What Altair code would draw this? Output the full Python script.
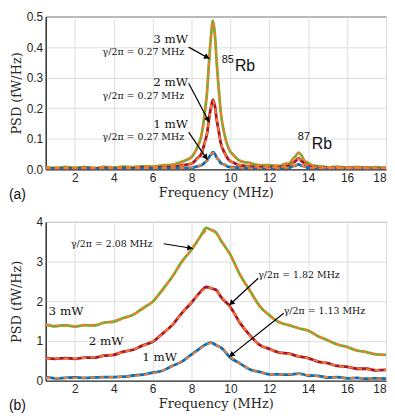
import math
import altair as alt
import pandas as pd

# ---------------- panel (a) data ----------------
freq_a = [0.5, 1, 1.5, 2, 2.5, 3, 3.5, 4, 4.5, 5, 5.5, 6, 6.5, 7, 7.5, 8, 8.3, 8.5, 8.7, 8.8,
          8.9, 9.0, 9.1, 9.2, 9.3, 9.4, 9.5, 9.7, 9.9, 10.2, 10.5, 11, 11.5, 12, 12.5, 12.8,
          13.0, 13.2, 13.35, 13.5, 13.65, 13.8, 14.0, 14.3, 14.7, 15, 15.5, 16, 16.5, 17, 17.5, 18]

data_a_3 = [0.007, 0.004, 0.008, 0.005, 0.007, 0.004, 0.008, 0.006, 0.009, 0.007,
            0.010, 0.009, 0.013, 0.015, 0.025, 0.040, 0.073, 0.108, 0.195, 0.255,
            0.352, 0.436, 0.487, 0.442, 0.343, 0.262, 0.188, 0.113, 0.069, 0.044,
            0.027, 0.021, 0.013, 0.014, 0.011, 0.018, 0.019, 0.033, 0.043, 0.055,
            0.046, 0.028, 0.021, 0.011, 0.010, 0.006, 0.009, 0.005, 0.008, 0.005, 0.007, 0.005]
fit_a_3 = [0.006, 0.006, 0.006, 0.006, 0.006, 0.006, 0.007, 0.007, 0.007, 0.008,
           0.009, 0.010, 0.012, 0.016, 0.023, 0.042, 0.071, 0.110, 0.191, 0.258,
           0.347, 0.439, 0.481, 0.439, 0.347, 0.258, 0.191, 0.110, 0.071, 0.042,
           0.029, 0.019, 0.015, 0.012, 0.013, 0.016, 0.020, 0.031, 0.044, 0.053,
           0.044, 0.030, 0.019, 0.013, 0.009, 0.008, 0.008, 0.007, 0.007, 0.006, 0.006, 0.006]
data_a_2 = [0.002, 0.004, 0.003, 0.002, 0.005, 0.003, 0.004, 0.002, 0.005, 0.003,
            0.006, 0.004, 0.007, 0.007, 0.013, 0.019, 0.036, 0.050, 0.093, 0.118,
            0.166, 0.203, 0.228, 0.207, 0.160, 0.124, 0.087, 0.054, 0.032, 0.021,
            0.013, 0.010, 0.007, 0.008, 0.007, 0.010, 0.011, 0.020, 0.027, 0.036,
            0.027, 0.020, 0.011, 0.009, 0.005, 0.006, 0.003, 0.005, 0.003, 0.005, 0.002, 0.004]
fit_a_2 = [0.003, 0.003, 0.003, 0.004, 0.004, 0.004, 0.004, 0.004, 0.004, 0.004,
           0.005, 0.005, 0.006, 0.008, 0.012, 0.020, 0.034, 0.052, 0.090, 0.121,
           0.163, 0.205, 0.225, 0.205, 0.163, 0.121, 0.090, 0.052, 0.034, 0.020,
           0.014, 0.009, 0.008, 0.007, 0.008, 0.009, 0.012, 0.019, 0.028, 0.034,
           0.028, 0.019, 0.012, 0.008, 0.006, 0.005, 0.004, 0.004, 0.004, 0.004, 0.003, 0.003]
data_a_1 = [0.001, 0.003, 0.002, 0.001, 0.003, 0.002, 0.001, 0.003, 0.002, 0.001,
            0.003, 0.002, 0.004, 0.003, 0.005, 0.005, 0.010, 0.013, 0.023, 0.029,
            0.040, 0.048, 0.056, 0.050, 0.038, 0.031, 0.021, 0.015, 0.008, 0.007,
            0.004, 0.004, 0.002, 0.004, 0.003, 0.006, 0.005, 0.010, 0.012, 0.016,
            0.012, 0.010, 0.005, 0.005, 0.002, 0.003, 0.001, 0.003, 0.001, 0.002, 0.003, 0.001]
fit_a_1 = [0.002, 0.002, 0.002, 0.002, 0.002, 0.002, 0.002, 0.002, 0.002, 0.002,
           0.002, 0.003, 0.003, 0.003, 0.004, 0.006, 0.009, 0.014, 0.022, 0.030,
           0.039, 0.049, 0.054, 0.049, 0.039, 0.030, 0.022, 0.014, 0.009, 0.006,
           0.005, 0.003, 0.003, 0.003, 0.004, 0.005, 0.006, 0.009, 0.013, 0.015,
           0.013, 0.009, 0.006, 0.004, 0.003, 0.003, 0.002, 0.002, 0.002, 0.002, 0.002, 0.002]

# ---------------- panel (b) data ----------------
freq_b = [0.5, 1, 1.5, 2, 2.5, 3, 3.5, 4, 4.5, 5, 5.5, 6, 6.5, 7, 7.5, 8, 8.5, 8.75, 9, 9.25,
          9.5, 10, 10.5, 11, 11.5, 12, 12.5, 13, 13.5, 14, 14.5, 15, 15.5, 16, 16.5, 17, 17.5, 18]

data_b_3 = [1.42, 1.37, 1.40, 1.36, 1.40, 1.39, 1.46, 1.49, 1.58, 1.66,
            1.83, 1.99, 2.29, 2.61, 3.00, 3.30, 3.67, 3.85, 3.80, 3.74,
            3.54, 3.17, 2.66, 2.27, 1.88, 1.65, 1.47, 1.40, 1.32, 1.26,
            1.12, 1.02, 0.91, 0.85, 0.76, 0.72, 0.66, 0.65]
fit_b_3 = [1.40, 1.39, 1.38, 1.38, 1.39, 1.41, 1.45, 1.50, 1.57, 1.67,
           1.81, 2.00, 2.27, 2.62, 2.98, 3.31, 3.65, 3.78, 3.80, 3.72,
           3.56, 3.15, 2.68, 2.25, 1.90, 1.64, 1.48, 1.39, 1.33, 1.25,
           1.13, 1.01, 0.92, 0.84, 0.77, 0.71, 0.67, 0.64]
data_b_2 = [0.57, 0.55, 0.57, 0.55, 0.58, 0.58, 0.63, 0.65, 0.73, 0.78,
            0.89, 0.98, 1.18, 1.40, 1.70, 1.97, 2.26, 2.36, 2.33, 2.29,
            2.12, 1.85, 1.45, 1.14, 0.90, 0.80, 0.71, 0.68, 0.61, 0.57,
            0.48, 0.44, 0.37, 0.35, 0.30, 0.30, 0.26, 0.27]
fit_b_2 = [0.56, 0.56, 0.56, 0.56, 0.57, 0.59, 0.62, 0.66, 0.72, 0.79,
           0.88, 0.99, 1.17, 1.41, 1.69, 1.98, 2.24, 2.33, 2.34, 2.27,
           2.14, 1.83, 1.47, 1.13, 0.91, 0.79, 0.72, 0.67, 0.62, 0.56,
           0.49, 0.43, 0.38, 0.34, 0.31, 0.29, 0.27, 0.26]
data_b_1 = [0.08, 0.06, 0.07, 0.08, 0.07, 0.08, 0.09, 0.09, 0.10, 0.13,
            0.15, 0.20, 0.25, 0.37, 0.48, 0.66, 0.84, 0.92, 0.96, 0.90,
            0.84, 0.58, 0.43, 0.28, 0.22, 0.16, 0.16, 0.15, 0.18, 0.13,
            0.12, 0.08, 0.09, 0.06, 0.07, 0.05, 0.06, 0.05]
fit_b_1 = [0.07, 0.07, 0.07, 0.07, 0.075, 0.08, 0.085, 0.09, 0.10, 0.12,
           0.15, 0.19, 0.26, 0.36, 0.49, 0.65, 0.83, 0.91, 0.94, 0.91,
           0.83, 0.60, 0.42, 0.29, 0.21, 0.17, 0.155, 0.16, 0.17, 0.14,
           0.11, 0.09, 0.08, 0.07, 0.065, 0.06, 0.055, 0.05]

powers = ["3 mW", "2 mW", "1 mW"]
power_colors = ["#77AC30", "#A2142F", "#0072BD"]
fit_color = "#FA7A28"

# ---------------- ticks & annotations ----------------
x_ticks = [2, 4, 6, 8, 10, 12, 14, 16, 18]
y_ticks_a = [0, 0.1, 0.2, 0.3, 0.4, 0.5]
y_ticks_b = [0, 1, 2, 3, 4]

mw_a_text = ["3 mW", "2 mW", "1 mW"]
mw_a_f = [7.82, 7.82, 7.82]
mw_a_v = [0.426, 0.285, 0.147]
gam_a_text = ["γ/2π = 0.27 MHz", "γ/2π = 0.27 MHz", "γ/2π = 0.27 MHz"]
gam_a_f = [7.62, 7.62, 7.62]
gam_a_v = [0.385, 0.240, 0.106]
arr_a_f1 = [7.85, 7.85, 7.85]
arr_a_v1 = [0.400, 0.282, 0.122]
arr_a_f2 = [8.93, 8.91, 8.82]
arr_a_v2 = [0.362, 0.154, 0.031]
iso_text = ["Rb", "Rb"]
iso_f = [10.23, 14.18]
iso_v = [0.338, 0.083]
iso_sup = ["85", "87"]
iso_sup_f = [10.18, 14.09]
iso_sup_v = [0.359, 0.106]

mw_b_text = ["3 mW", "2 mW", "1 mW"]
mw_b_f = [0.65, 2.71, 5.46]
mw_b_v = [1.75, 1.0, 0.6]
gam_b_text = ["γ/2π = 2.08 MHz", "γ/2π = 1.82 MHz", "γ/2π = 1.13 MHz"]
gam_b_f = [1.80, 11.43, 12.74]
gam_b_v = [3.45, 2.66, 1.76]
arr_b_f1 = [6.57, 11.43, 12.74]
arr_b_v1 = [3.45, 2.58, 1.70]
arr_b_f2 = [8.07, 9.93, 9.93]
arr_b_v2 = [3.33, 1.90, 0.60]

W = 343
HA = 154
HB = 160
X_DOM = [0.5, 18]

SERIF = "DejaVu Serif"
SANS = "Liberation Sans"


def long_df(freq, vals):
    rows = []
    for p, d in zip(powers, vals):
        for i, f in enumerate(freq):
            rows.append({"f": f, "v": d[i], "power": p, "order": i})
    return pd.DataFrame(rows)


def arrow_heads(f1, v1, f2, v2, sx, sy):
    rows = []
    for a, b, c, d in zip(f1, v1, f2, v2):
        dx = (c - a) * sx
        dys = -(d - b) * sy
        L = math.hypot(dx, dys)
        ang = math.degrees(math.atan2(dx, -dys)) % 360
        rows.append({"f": c - 3 * dx / L / sx, "v": d + 3 * dys / L / sy, "angle": ang})
    return pd.DataFrame(rows)


def make_enc(ydom, yticks):
    def xe():
        return alt.X("f:Q", scale=alt.Scale(domain=X_DOM, nice=False, zero=False),
                     axis=alt.Axis(values=x_ticks, title="Frequency (MHz)", labelPadding=3,
                                   titlePadding=3, labelOverlap=False))

    def ye():
        return alt.Y("v:Q", scale=alt.Scale(domain=ydom, nice=False, zero=False),
                     axis=alt.Axis(values=yticks, title="PSD (fW/Hz)", minExtent=20,
                                   labelPadding=3, titlePadding=2, labelOverlap=False))
    return xe, ye


def text_layer(xe, ye, txt, f, v, size, font, align):
    df = pd.DataFrame({"t": txt, "f": f, "v": v})
    return alt.Chart(df).mark_text(align=align, baseline="middle", font=font, fontSize=size,
                                   color="#111").encode(text="t:N", x=xe(), y=ye())


def arrow_layers(xe, ye, f1, v1, f2, v2, sx, sy):
    df = pd.DataFrame({"f": f1, "v": v1, "f2": f2, "v2": v2})
    lines = alt.Chart(df).mark_rule(strokeWidth=1.2, color="black").encode(
        x=xe(), y=ye(), x2="f2:Q", y2="v2:Q")
    heads = alt.Chart(arrow_heads(f1, v1, f2, v2, sx, sy)).mark_point(
        shape="triangle-up", filled=True, color="black", size=38, opacity=1).encode(
        x=xe(), y=ye(), angle=alt.Angle("angle:Q", scale=None))
    return [lines, heads]


def panel(freq, datas, fits, ydom, yticks, h, label, texts_fn):
    xe, ye = make_enc(ydom, yticks)
    color = alt.Color("power:N", scale=alt.Scale(domain=powers, range=power_colors), legend=None)
    data_lines = alt.Chart(long_df(freq, datas)).mark_line(
        strokeWidth=2.8, clip=True, interpolate="monotone").encode(
        x=xe(), y=ye(), color=color, order="order:Q")
    fit_lines = alt.Chart(long_df(freq, fits)).mark_line(
        strokeWidth=2, strokeDash=[5, 4], color=fit_color, clip=True,
        interpolate="monotone").encode(
        x=xe(), y=ye(), detail="power:N", order="order:Q")
    lab = alt.Chart(pd.DataFrame({"t": [label]})).mark_text(
        align="left", baseline="middle", font=SANS, fontSize=14, color="#111").encode(
        text="t:N", x=alt.value(-37), y=alt.value(h + 26))
    layers = [data_lines, fit_lines] + texts_fn(xe, ye) + [lab]
    return alt.layer(*layers).properties(width=W, height=h)


sx = W / (X_DOM[1] - X_DOM[0])


def texts_a(xe, ye):
    return [
        text_layer(xe, ye, mw_a_text, mw_a_f, mw_a_v, 12, SERIF, "right"),
        text_layer(xe, ye, gam_a_text, gam_a_f, gam_a_v, 9.5, SERIF, "right"),
        text_layer(xe, ye, iso_text, iso_f, iso_v, 16, SANS, "left"),
        text_layer(xe, ye, iso_sup, iso_sup_f, iso_sup_v, 11, SANS, "right"),
    ] + arrow_layers(xe, ye, arr_a_f1, arr_a_v1, arr_a_f2, arr_a_v2, sx, HA / 0.5)


def texts_b(xe, ye):
    return [
        text_layer(xe, ye, mw_b_text, mw_b_f, mw_b_v, 12, SERIF, "left"),
        text_layer(xe, ye, gam_b_text, gam_b_f, gam_b_v, 9.5, SERIF, "left"),
    ] + arrow_layers(xe, ye, arr_b_f1, arr_b_v1, arr_b_f2, arr_b_v2, sx, HB / 4)


pa = panel(freq_a, [data_a_3, data_a_2, data_a_1], [fit_a_3, fit_a_2, fit_a_1],
           [0, 0.5], y_ticks_a, HA, "(a)", texts_a)
pb = panel(freq_b, [data_b_3, data_b_2, data_b_1], [fit_b_3, fit_b_2, fit_b_1],
           [0, 4], y_ticks_b, HB, "(b)", texts_b)

chart = alt.vconcat(pa, pb, spacing=12).properties(padding=0).configure_view(
    stroke="#262626", strokeWidth=1
).configure_axis(
    grid=True, gridColor="#dedede", gridWidth=1, ticks=False,
    domainColor="#262626", domainWidth=1,
    labelFont=SANS, labelFontSize=12, labelColor="#262626",
    titleFont=SERIF, titleFontSize=13, titleFontWeight="normal", titleColor="#262626",
)

chart.save("out.html", embed_options={"renderer": "svg", "actions": False})
